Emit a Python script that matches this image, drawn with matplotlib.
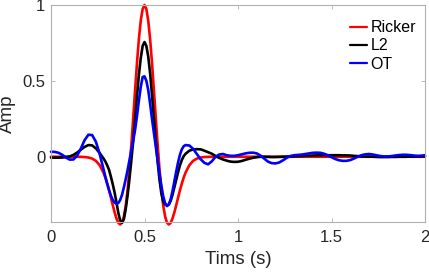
import matplotlib
matplotlib.use("Agg")
import matplotlib.pyplot as plt

plt.rcParams['font.family'] = ['Liberation Sans', 'DejaVu Sans']

# time samples (s)
time_s = [0.00, 0.02, 0.04, 0.06, 0.08, 0.10, 0.12, 0.14, 0.16, 0.18, 0.20, 0.22, 0.24, 0.26, 0.28,
          0.29, 0.30, 0.31, 0.32, 0.33, 0.34, 0.35, 0.36, 0.37, 0.38, 0.39, 0.40, 0.41, 0.42, 0.43,
          0.44, 0.45, 0.46, 0.47, 0.48, 0.49, 0.50, 0.51, 0.52, 0.53, 0.54, 0.55, 0.56, 0.57, 0.58,
          0.59, 0.60, 0.61, 0.62, 0.63, 0.64, 0.65, 0.66, 0.67, 0.68, 0.69, 0.70, 0.71,
          0.72, 0.74, 0.76, 0.78, 0.80, 0.82, 0.84, 0.86, 0.88, 0.90, 0.92, 0.94, 0.96, 0.98,
          1.00, 1.02, 1.04, 1.06, 1.08, 1.10, 1.12, 1.14, 1.16, 1.18, 1.20, 1.22, 1.24, 1.26, 1.28,
          1.30, 1.32, 1.34, 1.36, 1.38, 1.40, 1.42, 1.44, 1.46, 1.48, 1.50, 1.52, 1.54, 1.56, 1.58,
          1.60, 1.62, 1.64, 1.66, 1.68, 1.70, 1.72, 1.74, 1.76, 1.78, 1.80, 1.82, 1.84, 1.86, 1.88,
          1.90, 1.92, 1.94, 1.96, 1.98, 2.00]

ricker = [0.0, 0.0, 0.0, 0.0, 0.0, 0.0, 0.0, -0.0002, -0.0007, -0.0019, -0.0051, -0.0122, -0.0272, -0.0554, -0.1032,
          -0.136, -0.1748, -0.2192, -0.2675, -0.3174, -0.3651, -0.4062, -0.4353, -0.4463, -0.4337, -0.3924, -0.3194, -0.2138, -0.0776, 0.0838,
          0.2618, 0.4452, 0.6209, 0.7756, 0.8965, 0.9736, 1.0, 0.9736, 0.8965, 0.7756, 0.6209, 0.4452, 0.2618, 0.0838, -0.0776,
          -0.2138, -0.3194, -0.3924, -0.4337, -0.4463, -0.4353, -0.4062, -0.3651, -0.3174, -0.2675, -0.2192, -0.1748, -0.136,
          -0.1032, -0.0554, -0.0272, -0.0122, -0.0051, -0.0019, -0.0007, -0.0002, 0.0, 0.0, 0.0, 0.0, 0.0, 0.0,
          0.0, 0.0, 0.0, 0.0, 0.0, 0.0, 0.0, 0.0, 0.0, 0.0, 0.0, 0.0, 0.0, 0.0, 0.0,
          0.0, 0.0, 0.0, 0.0, 0.0, 0.0, 0.0, 0.0, 0.0, 0.0, 0.0, 0.0, 0.0, 0.0, 0.0,
          0.0, 0.0, 0.0, 0.0, 0.0, 0.0, 0.0, 0.0, 0.0, 0.0, 0.0, 0.0, 0.0, 0.0, 0.0,
          0.0, 0.0, 0.0, 0.0, 0.0, 0.0]

l2 = [-0.006, -0.006, -0.006, -0.005, -0.003, 0.002, 0.012, 0.028, 0.047, 0.065, 0.077, 0.075, 0.055, 0.025, -0.01,
      -0.03, -0.055, -0.085, -0.13, -0.18, -0.235, -0.30, -0.37, -0.42, -0.435, -0.41, -0.34, -0.25, -0.14, -0.02,
      0.11, 0.25, 0.40, 0.54, 0.65, 0.73, 0.756, 0.73, 0.66, 0.55, 0.41, 0.26, 0.11, -0.03, -0.15,
      -0.24, -0.295, -0.315, -0.32, -0.315, -0.29, -0.25, -0.20, -0.15, -0.10, -0.055, -0.02, 0.005,
      0.02, 0.04, 0.048, 0.05, 0.049, 0.04, 0.03, 0.02, 0.005, -0.008, -0.018, -0.026, -0.032, -0.034,
      -0.033, -0.028, -0.02, -0.013, -0.007, -0.003, 0.0, 0.0, -0.001, -0.002, -0.002, -0.001, 0.0, 0.001, 0.002,
      0.003, 0.004, 0.005, 0.006, 0.007, 0.008, 0.009, 0.01, 0.01, 0.01, 0.01, 0.01, 0.01, 0.009, 0.009,
      0.008, 0.006, 0.004, 0.002, 0.001, 0.001, 0.0, -0.001, -0.002, -0.002, -0.002, -0.001, -0.001, 0.0, 0.0,
      0.0, 0.001, 0.001, 0.002, 0.002, 0.003]

ot = [0.033, 0.032, 0.026, 0.013, -0.005, -0.019, -0.018, 0.008, 0.055, 0.11, 0.145, 0.143, 0.099, 0.02, -0.078,
      -0.128, -0.175, -0.218, -0.255, -0.284, -0.302, -0.31, -0.305, -0.285, -0.25, -0.20, -0.145, -0.085, -0.02, 0.045,
      0.11, 0.18, 0.27, 0.37, 0.46, 0.525, 0.53, 0.50, 0.44, 0.35, 0.25, 0.16, 0.07, -0.02, -0.11,
      -0.19, -0.26, -0.305, -0.325, -0.315, -0.28, -0.225, -0.16, -0.095, -0.035, 0.015, 0.05, 0.07,
      0.077, 0.074, 0.052, 0.018, -0.016, -0.04, -0.05, -0.03, 0.0, 0.015, 0.018, 0.01, 0.006, 0.006,
      0.01, 0.016, 0.022, 0.026, 0.027, 0.022, 0.008, -0.012, -0.032, -0.042, -0.044, -0.038, -0.024, -0.008, 0.005,
      0.01, 0.012, 0.014, 0.018, 0.022, 0.026, 0.027, 0.026, 0.02, 0.01, -0.003, -0.015, -0.023, -0.027, -0.027,
      -0.022, -0.012, 0.0, 0.01, 0.016, 0.018, 0.015, 0.01, 0.005, 0.002, 0.002, 0.004, 0.008, 0.011, 0.013,
      0.013, 0.011, 0.008, 0.006, 0.007, 0.01]

series_labels = ['Ricker', 'L2', 'OT']
series_colors = ['#ff0000', '#000000', '#0000ff']
x_ticks = [0, 0.5, 1, 1.5, 2]
x_tick_labels = ['0', '0.5', '1', '1.5', '2']
y_ticks = [0, 0.5, 1]
y_tick_labels = ['0', '0.5', '1']

fig = plt.figure(figsize=(4.29, 2.74), dpi=100)
ax = fig.add_axes([51 / 429, 1 - 222 / 274, (425 - 51) / 429, (222 - 5) / 274])

for vals, lab, col in zip([ricker, l2, ot], series_labels, series_colors):
    ax.plot(time_s, vals, color=col, lw=1.9, label=lab, clip_on=False, solid_capstyle='round')

ax.set_xlim(0, 2)
ax.set_ylim(-0.43, 1.0)
ax.set_xticks(x_ticks)
ax.set_xticklabels(x_tick_labels)
ax.set_yticks(y_ticks)
ax.set_yticklabels(y_tick_labels)

for s in ax.spines.values():
    s.set_color('#b0b0b0')
    s.set_linewidth(0.8)
ax.tick_params(axis='both', direction='in', length=2.7, width=0.6, color='#b0b0b0',
               labelcolor='#262626', labelsize=12, top=True, right=True)
ax.tick_params(axis='x', pad=6)
ax.tick_params(axis='y', pad=4)

ax.set_xlabel('Tims (s)', fontsize=13.5, color='#262626', labelpad=4)
ax.set_ylabel('Amp', fontsize=13.5, color='#262626', labelpad=5)

leg = ax.legend(loc='upper right', bbox_to_anchor=(0.976, 0.93), frameon=False,
                fontsize=11.5, handlelength=1.06, handletextpad=0.2,
                labelspacing=0.2, borderpad=0, borderaxespad=0)
for h in leg.get_lines():
    h.set_linewidth(1.6)

fig.savefig('out.png', dpi=100)
